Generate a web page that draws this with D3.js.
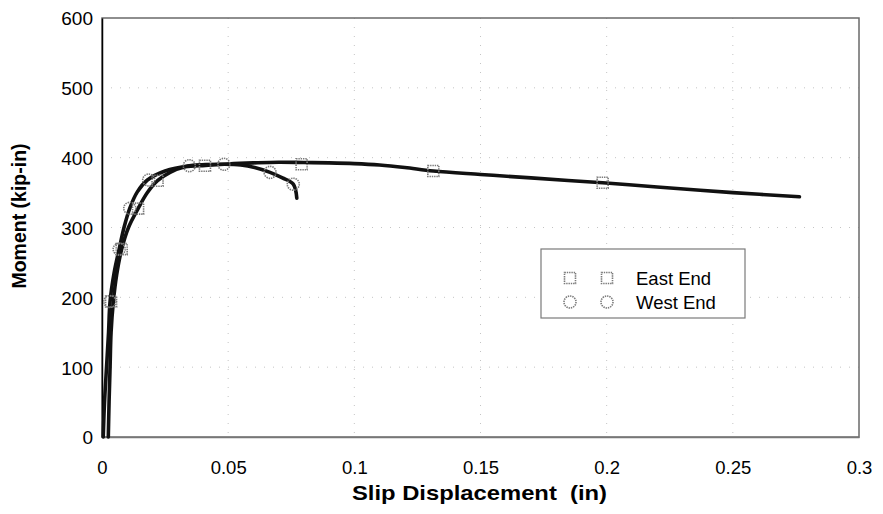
<!DOCTYPE html>
<html>
<head>
<meta charset="utf-8">
<script src="https://cdn.jsdelivr.net/npm/d3@7"></script>
<style>
  html, body { margin: 0; padding: 0; background: #fff; }
  svg { display: block; font-family: "Liberation Sans", Arial, sans-serif; }
</style>
</head>
<body>
<svg id="chart" width="883" height="514"></svg>
<script>
// Moment vs. slip displacement, east and west ends of the specimen
const xTicks = [0, 0.05, 0.1, 0.15, 0.2, 0.25, 0.3];
const yTicks = [0, 100, 200, 300, 400, 500, 600];

// East End response curve [slip (in), moment (kip-in)]
const eastSlip   = [0.0025, 0.0028, 0.0032, 0.0036, 0.0045, 0.0058, 0.0078, 0.0105, 0.0143, 0.018, 0.022, 0.027, 0.033, 0.041, 0.05, 0.06, 0.07, 0.08, 0.09, 0.1, 0.11, 0.12, 0.1313, 0.15, 0.17, 0.1984, 0.22, 0.25, 0.2764];
const eastMoment = [0, 50, 100, 150, 194, 232, 269, 300, 327, 350, 367, 379, 387, 389, 391, 392.5, 393.5, 393, 392.5, 391.5, 389.5, 386, 381, 376, 371, 364, 358, 350, 344];

// West End response curve
const westSlip   = [0.0005, 0.001, 0.0018, 0.0026, 0.0032, 0.0048, 0.0068, 0.0088, 0.011, 0.014, 0.018, 0.025, 0.0346, 0.041, 0.0483, 0.055, 0.0605, 0.0666, 0.0715, 0.0758, 0.0772];
const westMoment = [0, 50, 100, 150, 194, 235, 269, 301, 327.5, 351, 368, 381, 388.5, 390, 390.5, 389.5, 386, 379, 371, 362, 342];

// Marker positions on each curve
const eastMarkSlip   = [0.0036, 0.0078, 0.0143, 0.022, 0.0408, 0.0791, 0.1313, 0.1984];
const eastMarkMoment = [194, 269, 327, 367, 388.5, 390.5, 381, 364];
const westMarkSlip   = [0.0031, 0.0068, 0.011, 0.0185, 0.0346, 0.0483, 0.0666, 0.0758];
const westMarkMoment = [194, 269, 327.5, 368, 388.5, 390.5, 379, 362];

const seriesNames = ["East End", "West End"];

const svg = d3.select("#chart");
const m = { left: 102, right: 859, top: 18, bottom: 437 };

const x = d3.scaleLinear().domain([0, 0.3]).range([m.left, m.right]);
const y = d3.scaleLinear().domain([0, 600]).range([m.bottom, m.top]);

// sparse dotted grid
const grid = svg.append("g");
grid.selectAll("line.gx").data(xTicks.slice(1, -1)).join("line")
  .attr("x1", d => x(d)).attr("x2", d => x(d))
  .attr("y1", m.top).attr("y2", m.bottom)
  .attr("stroke", "#c4c4c4").attr("stroke-width", 1)
  .attr("stroke-dasharray", "1,8");
grid.selectAll("line.gy").data(yTicks.slice(1, -1)).join("line")
  .attr("y1", d => y(d)).attr("y2", d => y(d))
  .attr("x1", m.left).attr("x2", m.right)
  .attr("stroke", "#c4c4c4").attr("stroke-width", 1)
  .attr("stroke-dasharray", "1,8");

// plot frame
svg.append("rect")
  .attr("x", m.left).attr("y", m.top)
  .attr("width", m.right - m.left).attr("height", m.bottom - m.top)
  .attr("fill", "none").attr("stroke", "#6a6a6a").attr("stroke-width", 1.5);

// axes (labels only, no tick marks)
const xAxis = d3.axisBottom(x).tickValues(xTicks).tickSize(0).tickPadding(0)
  .tickFormat(d => d === 0 ? "0" : String(+d.toFixed(2)));
const gx = svg.append("g").attr("transform", `translate(0,${m.bottom})`).call(xAxis);
gx.select(".domain").attr("stroke", "#777").attr("stroke-width", 1.5);
gx.selectAll("text").attr("y", 37).attr("dy", null)
  .attr("font-size", 18.5).attr("fill", "#000")
  .attr("font-family", "'Liberation Sans', Arial, sans-serif");

const yAxis = d3.axisLeft(y).tickValues(yTicks).tickSize(0).tickPadding(0);
const gy = svg.append("g").attr("transform", `translate(${m.left},0)`).call(yAxis);
gy.select(".domain").attr("stroke", "#000").attr("stroke-width", 1.5);
gy.selectAll("text").attr("x", -9).attr("dy", "0.36em")
  .attr("font-size", 19).attr("fill", "#000")
  .attr("font-family", "'Liberation Sans', Arial, sans-serif");

// curves
const line = d3.line()
  .x(d => x(d[0])).y(d => y(d[1]))
  .curve(d3.curveCatmullRom.alpha(0.5));

const eastPts = eastSlip.map((s, i) => [s, eastMoment[i]]);
const westPts = westSlip.map((s, i) => [s, westMoment[i]]);

svg.append("path").datum(eastPts).attr("d", line)
  .attr("fill", "none").attr("stroke", "#111").attr("stroke-width", 3.6)
  .attr("stroke-linejoin", "round").attr("stroke-linecap", "round");
svg.append("path").datum(westPts).attr("d", line)
  .attr("fill", "none").attr("stroke", "#111").attr("stroke-width", 3.6)
  .attr("stroke-linejoin", "round").attr("stroke-linecap", "round");

// markers: hollow, dotted grey outline
const markStroke = "#7a7a7a";
function square(g, cx, cy) {
  g.append("rect").attr("x", cx - 5.5).attr("y", cy - 5.5)
    .attr("width", 11).attr("height", 11)
    .attr("fill", "none").attr("stroke", markStroke)
    .attr("stroke-width", 1.6).attr("stroke-dasharray", "1.4,0.9");
}
function circle(g, cx, cy) {
  g.append("circle").attr("cx", cx).attr("cy", cy).attr("r", 6)
    .attr("fill", "none").attr("stroke", markStroke)
    .attr("stroke-width", 1.6).attr("stroke-dasharray", "1.4,0.9");
}
const marks = svg.append("g");
eastMarkSlip.forEach((s, i) => square(marks, x(s), y(eastMarkMoment[i])));
westMarkSlip.forEach((s, i) => circle(marks, x(s), y(westMarkMoment[i])));

// legend
const lg = svg.append("g");
lg.append("rect").attr("x", 541).attr("y", 249).attr("width", 204).attr("height", 69)
  .attr("fill", "#fff").attr("stroke", "#7a7a7a").attr("stroke-width", 1.2);
[0, 1].forEach(i => {
  const cy = 278 + i * 24;
  const draw = i === 0 ? square : circle;
  draw(lg, 570, cy);
  draw(lg, 607, cy);
  lg.append("text").attr("x", 636).attr("y", cy + 6.5)
    .attr("font-size", 18.5).attr("fill", "#000")
    .text(seriesNames[i]);
});

// axis titles
svg.append("text")
  .attr("x", 352).attr("y", 500)
  .attr("font-weight", "bold").attr("font-size", 20.5)
  .attr("xml:space", "preserve")
  .attr("textLength", 255).attr("lengthAdjust", "spacingAndGlyphs")
  .text("Slip Displacement  (in)");
svg.append("text")
  .attr("transform", "translate(26,216) rotate(-90)")
  .attr("text-anchor", "middle").attr("font-weight", "bold").attr("font-size", 19.5)
  .text("Moment (kip-in)");
</script>
</body>
</html>
